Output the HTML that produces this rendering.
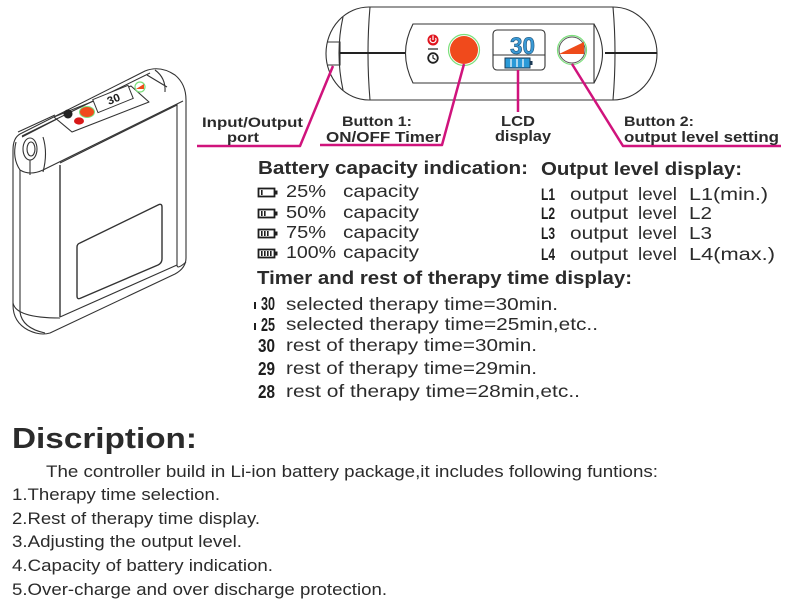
<!DOCTYPE html>
<html><head><meta charset="utf-8"><style>
html,body{margin:0;padding:0;background:#fff;}
svg{display:block;}
text{font-family:"Liberation Sans",Arial,sans-serif;fill:#2b2b2b;}
.b{font-weight:bold;}
.seg{font-family:"Liberation Sans Narrow","Liberation Sans",sans-serif;font-weight:bold;fill:#1e1e1e;}
</style></head><body>
<svg width="803" height="610" viewBox="0 0 803 610" xmlns="http://www.w3.org/2000/svg">
<rect width="803" height="610" fill="#fff"/>

<!-- ===== Left isometric device ===== -->
<g fill="none" stroke="#333" stroke-width="1.1" stroke-linejoin="round">
  <path d="M20,134 L145,71 Q160,65 175,75 Q186,84 186,100 L186,258 Q186,268 175,274 L50,333 Q40,336 28,330 Q13,322 13,305 L13,150 Q13,138 20,134 Z" fill="#fff"/>
  <path d="M20,170 L20,312 Q22,328 45,333"/>
  <path d="M60,165 L60,317" stroke-width="1.4"/>
  <path d="M13,303 Q16,318 60,318"/>
  <path d="M60,317 L177,265"/>
  <path d="M177,104 L177,265 Q177,270 186,262"/>
  <path d="M43,170 L183,101"/>
  <path d="M60,163 L177,105"/>
  <path d="M22,136 L150,73"/>
  <path d="M18,132 L55,115 M22,137 L57,119"/>
  <path d="M43,137 Q48,153 43,172"/>
  <path d="M16,142 Q12,158 20,170 Q30,176 43,170"/>
  <ellipse cx="30" cy="149" rx="7" ry="11"/>
  <ellipse cx="31" cy="149" rx="4" ry="7"/>
  <path d="M30,160 L30,175"/>
  <path d="M147,75 L167,87 M155,70 Q166,78 165,92"/>
  <path d="M54,117 L131,86 L149,102 L72,132 Z"/>
  <path d="M80,243 L158,205 Q162,203 162,207 L162,259 Q162,263 158,265 L81,298 Q77,300 77,296 L77,247 Q77,244 80,243 Z" stroke-width="1.4"/>
</g>
<circle cx="68" cy="114" r="4.5" fill="#222"/>
<ellipse cx="79" cy="121" rx="5" ry="3.6" fill="#d81818"/>
<ellipse cx="87" cy="112" rx="7.5" ry="5.5" fill="#f04a1c" stroke="#7be07b" stroke-width="1"/>
<g transform="translate(113,99) rotate(-22)">
  <rect x="-19" y="-7" width="38" height="14" fill="#fff" stroke="#333" stroke-width="1"/>
  <text class="seg" x="-6" y="4" font-size="11" textLength="13" lengthAdjust="spacingAndGlyphs">30</text>
</g>
<circle cx="140" cy="87" r="5" fill="#fff" stroke="#7be07b" stroke-width="1.2"/>
<path d="M136,89 L144,84 L144,89 Z" fill="#ee4b1a"/>

<!-- ===== Top device side view ===== -->
<g fill="none" stroke="#333" stroke-width="1.1">
  <path d="M369,7 L613,7 A44 46.5 0 0 1 613,100 L369,100 A43 46.5 0 0 1 369,7 Z" fill="#fff"/>
  <path d="M370,7 Q366,53 370,100"/>
  <path d="M613,7 Q617,53 613,100"/>
  <path d="M343,17 Q335,53 343,90"/>
  <path d="M327,42 L340,42 L340,65 L328,65"/>
  <path d="M413,24 L594,24 L594,83 L413,83 Q398,53 413,24 Z"/>
  <path d="M594,24 Q611,53 594,83"/>
</g>
<path d="M340,53 L405,53 M605,53 L657,53" stroke="#222" stroke-width="2"/>

<circle cx="433" cy="40" r="5.5" fill="#e0141e"/>
<path d="M430.5,38 A3 3 0 1 0 435.5,38" fill="none" stroke="#fff" stroke-width="1.2"/>
<path d="M433,35.5 L433,40" stroke="#fff" stroke-width="1.2"/>
<path d="M428,49 L438,49" stroke="#222" stroke-width="1.2"/>
<circle cx="433" cy="58" r="4.8" fill="none" stroke="#222" stroke-width="1.8"/>
<path d="M433,55 L433,58 L435.5,59.5" fill="none" stroke="#222" stroke-width="1.2"/>

<circle cx="464" cy="50" r="15.5" fill="none" stroke="#7be07b" stroke-width="1.2"/>
<circle cx="464" cy="50" r="14" fill="#f04a1c"/>

<rect x="493" y="30" width="52" height="40" rx="4" fill="#fff" stroke="#333" stroke-width="1.1"/>
<path d="M493,55 L545,55" stroke="#333" stroke-width="1"/>
<text x="510" y="54" font-size="24" font-weight="bold" textLength="25" lengthAdjust="spacingAndGlyphs" style="fill:#3a9ad6;stroke:#1d4f75;stroke-width:0.6;font-family:'Liberation Sans Narrow','Liberation Sans',sans-serif;">30</text>
<rect x="505" y="58" width="25" height="10" fill="#2a9ad8" stroke="#1b3a55" stroke-width="1"/>
<rect x="530" y="61" width="2.5" height="4" fill="#1b3a55"/>
<path d="M511,59 L511,67 M517,59 L517,67 M523,59 L523,67" stroke="#fff" stroke-width="1.2"/>

<circle cx="572" cy="50" r="14.5" fill="none" stroke="#7be07b" stroke-width="1.2"/>
<circle cx="572" cy="50" r="13" fill="#fff" stroke="#555" stroke-width="1"/>
<path d="M559,54 L584,42 L584,54 Z" fill="#ee4b1a"/>

<g fill="none" stroke="#d0137c" stroke-width="2.5" stroke-linejoin="round">
  <path d="M333,66 L300,146 L197,146"/>
  <path d="M464,64 L442,145 L320,145"/>
  <path d="M518,70 L518,112"/>
  <path d="M572,64 L623,146 L781,146"/>
</g>

<g font-size="14">
  <text class="b" x="202" y="127" textLength="101" lengthAdjust="spacingAndGlyphs">Input/Output</text>
  <text class="b" x="227" y="142" textLength="32" lengthAdjust="spacingAndGlyphs">port</text>
  <text class="b" x="342" y="126" textLength="70" lengthAdjust="spacingAndGlyphs">Button 1:</text>
  <text class="b" x="326" y="142" textLength="115" lengthAdjust="spacingAndGlyphs" font-size="15">ON/OFF Timer</text>
  <text class="b" x="501" y="126" textLength="34" lengthAdjust="spacingAndGlyphs" font-size="15">LCD</text>
  <text class="b" x="495" y="141" textLength="56" lengthAdjust="spacingAndGlyphs" font-size="15">display</text>
  <text class="b" x="624" y="126" textLength="70" lengthAdjust="spacingAndGlyphs">Button 2:</text>
  <text class="b" x="624" y="142" textLength="155" lengthAdjust="spacingAndGlyphs" font-size="15">output level setting</text>
</g>

<g font-size="18">
  <text class="b" x="258" y="174" textLength="270" lengthAdjust="spacingAndGlyphs">Battery capacity indication:</text>
  <text class="b" x="541" y="175" textLength="201" lengthAdjust="spacingAndGlyphs">Output level display:</text>
  <text class="b" x="257" y="284" textLength="375" lengthAdjust="spacingAndGlyphs">Timer and rest of therapy time display:</text>
</g>

<g fill="none" stroke="#1e1e1e" stroke-width="1.8">
  <rect x="258.5" y="188.5" width="16" height="8"/>
  <rect x="258.5" y="209.5" width="16" height="8"/>
  <rect x="258.5" y="229.5" width="16" height="8"/>
  <rect x="258.5" y="249.5" width="16" height="8"/>
</g>
<g fill="#1e1e1e">
  <rect x="275" y="190.5" width="2.5" height="4"/>
  <rect x="275" y="211.5" width="2.5" height="4"/>
  <rect x="275" y="231.5" width="2.5" height="4"/>
  <rect x="275" y="251.5" width="2.5" height="4"/>
  <rect x="261" y="190" width="1.6" height="5"/>
  <rect x="261" y="211" width="1.6" height="5"/><rect x="264" y="211" width="1.6" height="5"/>
  <rect x="261" y="231" width="1.6" height="5"/><rect x="264" y="231" width="1.6" height="5"/><rect x="267" y="231" width="1.6" height="5"/>
  <rect x="261" y="251" width="1.6" height="5"/><rect x="264" y="251" width="1.6" height="5"/><rect x="267" y="251" width="1.6" height="5"/><rect x="270" y="251" width="1.6" height="5"/>
</g>

<g font-size="17.5">
  <text x="286" y="197" textLength="40" lengthAdjust="spacingAndGlyphs">25%</text>
  <text x="343" y="197" textLength="76" lengthAdjust="spacingAndGlyphs">capacity</text>
  <text x="286" y="218" textLength="40" lengthAdjust="spacingAndGlyphs">50%</text>
  <text x="343" y="218" textLength="76" lengthAdjust="spacingAndGlyphs">capacity</text>
  <text x="286" y="238" textLength="40" lengthAdjust="spacingAndGlyphs">75%</text>
  <text x="343" y="238" textLength="76" lengthAdjust="spacingAndGlyphs">capacity</text>
  <text x="286" y="258" textLength="50" lengthAdjust="spacingAndGlyphs">100%</text>
  <text x="343" y="258" textLength="76" lengthAdjust="spacingAndGlyphs">capacity</text>
</g>

<g font-size="17">
  <text class="seg" x="541" y="200" textLength="14" lengthAdjust="spacingAndGlyphs">L1</text>
  <text class="seg" x="541" y="219" textLength="14" lengthAdjust="spacingAndGlyphs">L2</text>
  <text class="seg" x="541" y="239" textLength="14" lengthAdjust="spacingAndGlyphs">L3</text>
  <text class="seg" x="541" y="260" textLength="14" lengthAdjust="spacingAndGlyphs">L4</text>
</g>
<g font-size="17.5">
  <text x="570" y="200" textLength="58" lengthAdjust="spacingAndGlyphs">output</text>
  <text x="638" y="200" textLength="39" lengthAdjust="spacingAndGlyphs">level</text>
  <text x="689" y="200" textLength="79" lengthAdjust="spacingAndGlyphs">L1(min.)</text>
  <text x="570" y="219" textLength="58" lengthAdjust="spacingAndGlyphs">output</text>
  <text x="638" y="219" textLength="39" lengthAdjust="spacingAndGlyphs">level</text>
  <text x="689" y="219" textLength="23" lengthAdjust="spacingAndGlyphs">L2</text>
  <text x="570" y="239" textLength="58" lengthAdjust="spacingAndGlyphs">output</text>
  <text x="638" y="239" textLength="39" lengthAdjust="spacingAndGlyphs">level</text>
  <text x="689" y="239" textLength="23" lengthAdjust="spacingAndGlyphs">L3</text>
  <text x="570" y="260" textLength="58" lengthAdjust="spacingAndGlyphs">output</text>
  <text x="638" y="260" textLength="39" lengthAdjust="spacingAndGlyphs">level</text>
  <text x="689" y="260" textLength="86" lengthAdjust="spacingAndGlyphs">L4(max.)</text>
</g>

<rect x="254" y="302" width="2" height="7" fill="#1e1e1e"/>
<rect x="254" y="323" width="2" height="7" fill="#1e1e1e"/>
<g font-size="18">
  <text class="seg" x="261" y="310" textLength="14" lengthAdjust="spacingAndGlyphs">30</text>
  <text class="seg" x="261" y="331" textLength="14" lengthAdjust="spacingAndGlyphs">25</text>
  <text class="seg" x="258" y="352" textLength="17" lengthAdjust="spacingAndGlyphs">30</text>
  <text class="seg" x="258" y="375" textLength="17" lengthAdjust="spacingAndGlyphs">29</text>
  <text class="seg" x="258" y="398" textLength="17" lengthAdjust="spacingAndGlyphs">28</text>
</g>
<g font-size="17.5">
  <text x="286" y="310" textLength="272" lengthAdjust="spacingAndGlyphs">selected therapy time=30min.</text>
  <text x="286" y="330" textLength="312" lengthAdjust="spacingAndGlyphs">selected therapy time=25min,etc..</text>
  <text x="286" y="351" textLength="251" lengthAdjust="spacingAndGlyphs">rest of therapy time=30min.</text>
  <text x="286" y="374" textLength="251" lengthAdjust="spacingAndGlyphs">rest of therapy time=29min.</text>
  <text x="286" y="397" textLength="294" lengthAdjust="spacingAndGlyphs">rest of therapy time=28min,etc..</text>
</g>

<text class="b" x="12" y="448" font-size="29" textLength="185" lengthAdjust="spacingAndGlyphs">Discription:</text>
<g font-size="16.5">
  <text x="46" y="477" textLength="612" lengthAdjust="spacingAndGlyphs">The controller build in Li-ion battery package,it includes following funtions:</text>
  <text x="12" y="500" textLength="208" lengthAdjust="spacingAndGlyphs">1.Therapy time selection.</text>
  <text x="12" y="524" textLength="248" lengthAdjust="spacingAndGlyphs">2.Rest of therapy time display.</text>
  <text x="12" y="547" textLength="230" lengthAdjust="spacingAndGlyphs">3.Adjusting the output level.</text>
  <text x="12" y="571" textLength="261" lengthAdjust="spacingAndGlyphs">4.Capacity of battery indication.</text>
  <text x="12" y="595" textLength="375" lengthAdjust="spacingAndGlyphs">5.Over-charge and over discharge protection.</text>
</g>
</svg>
</body></html>
